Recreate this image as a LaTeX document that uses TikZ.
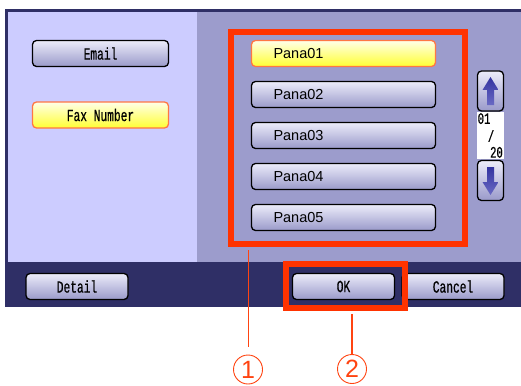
\documentclass[tikz,border=0pt]{standalone}
\usepackage{fontspec}
\setmainfont{Liberation Sans}
\newfontfamily\panelfont[FakeStretch=0.66,FakeBold=0.6]{Liberation Mono}
\definecolor{navy}{HTML}{2F2F66}
\definecolor{leftpane}{HTML}{CCCCFF}
\definecolor{rightpane}{HTML}{9C9CCC}
\definecolor{mark}{HTML}{FF3300}
\definecolor{callout}{HTML}{FF4411}
\definecolor{btntop}{HTML}{ECECFA}
\definecolor{btnbot}{HTML}{9A9ACA}
\definecolor{arrowblue}{HTML}{3333A0}
\definecolor{arrowlight}{HTML}{6A6AC4}
\definecolor{selline}{HTML}{FF7744}
\definecolor{seltop}{HTML}{FFFFE8}
\definecolor{selbot}{HTML}{FFFF33}
\tikzset{
 x=1pt,y=-1pt,
 btn/.style={draw=black,line width=1.3pt,rounded corners=4pt,top color=btntop,bottom color=btnbot,inner sep=0pt,text=black},
 panelbtn/.style={btn,font=\panelfont\fontsize{17}{17}\selectfont},
 namebtn/.style={btn,font=\fontsize{14.5}{15}\selectfont,minimum width=184pt,minimum height=26pt},
 selected/.style={draw=selline,top color=seltop,bottom color=selbot},
 redbox/.style={draw=mark,line width=6pt,fill=none,inner sep=0pt},
 lead/.style={draw=callout,line width=1.6pt},
 num/.style={circle,draw=callout,line width=0.9pt,minimum size=29pt,text=callout,inner sep=0pt,font=\fontsize{25}{25}\selectfont},
 scrollbtn/.style={btn,minimum width=26pt},
 pagetext/.style={inner sep=0pt,font=\panelfont\fontsize{16}{16}\selectfont},
}
\begin{document}
\begin{tikzpicture}
\useasboundingbox (0,0) rectangle (521,385);
\fill[white] (0,0) rectangle (521,385);
\fill[navy] (5,9) rectangle (521,307);
\fill[leftpane] (8,12.5) rectangle (197,262);
\fill[rightpane] (197,12.5) rectangle (521,262);
\node[panelbtn,selected,minimum width=136pt,minimum height=26pt] at (100.5,115) (fax) {Fax Number};
\node[panelbtn,minimum width=136pt,minimum height=26pt] at (100.5,53.5) (email) {Email};
\node[namebtn,selected] at (343.5,53.5) (p1) {\hspace*{-90pt}\makebox[50pt][l]{Pana01}};
\node[namebtn] at (343.5,94.5) (p2) {\hspace*{-90pt}\makebox[50pt][l]{Pana02}};
\node[namebtn] at (343.5,135.5) (p3) {\hspace*{-90pt}\makebox[50pt][l]{Pana03}};
\node[namebtn] at (343.5,176.5) (p4) {\hspace*{-90pt}\makebox[50pt][l]{Pana04}};
\node[namebtn] at (343.5,217.5) (p5) {\hspace*{-90pt}\makebox[50pt][l]{Pana05}};
\node[panelbtn,minimum width=102pt,minimum height=26pt] at (77,286.5) (detail) {Detail};
\node[panelbtn,minimum width=102pt,minimum height=26pt] at (453,286.5) (cancel) {Cancel};
\node[panelbtn,minimum width=102pt,minimum height=26pt] at (343.5,286.5) (ok) {OK};
% scroll
\node[scrollbtn,minimum height=40pt] at (490.5,91) (up) {};
\node[scrollbtn,minimum height=40pt] at (490.5,180.5) (down) {};
\fill[white] (477,112) rectangle (504,159);
\node[pagetext,anchor=north west] at (477.5,113) (pg1) {01};
\node[pagetext] at (491,136) (pgs) {/};
\node[pagetext,anchor=south east] at (503,158) (pg2) {20};
\path[top color=arrowblue,bottom color=arrowlight] (490.5,77) -- (498.5,90) -- (494,90) -- (494,105) -- (487,105) -- (487,90) -- (482.5,90) -- cycle;
\path[top color=arrowblue,bottom color=arrowlight] (490.5,195) -- (498.5,182) -- (494,182) -- (494,167) -- (487,167) -- (487,182) -- (482.5,182) -- cycle;
% red marks
\node[redbox,minimum width=234pt,minimum height=212pt] at (348,138) (list) {};
\node[redbox,minimum width=119pt,minimum height=44pt] at (345.5,286) (okbox) {};
% callouts
\node[num] at (248,369.5) (c1) {1};
\node[num] at (352,369) (c2) {2};
\coordinate (e1) at (248.5,347);
\draw[lead] (list.south -| e1) ++(0,3) -- (e1);
\draw[lead] (okbox.south -| c2.north) ++(0,3) -- (c2.north);
\end{tikzpicture}
\end{document}
